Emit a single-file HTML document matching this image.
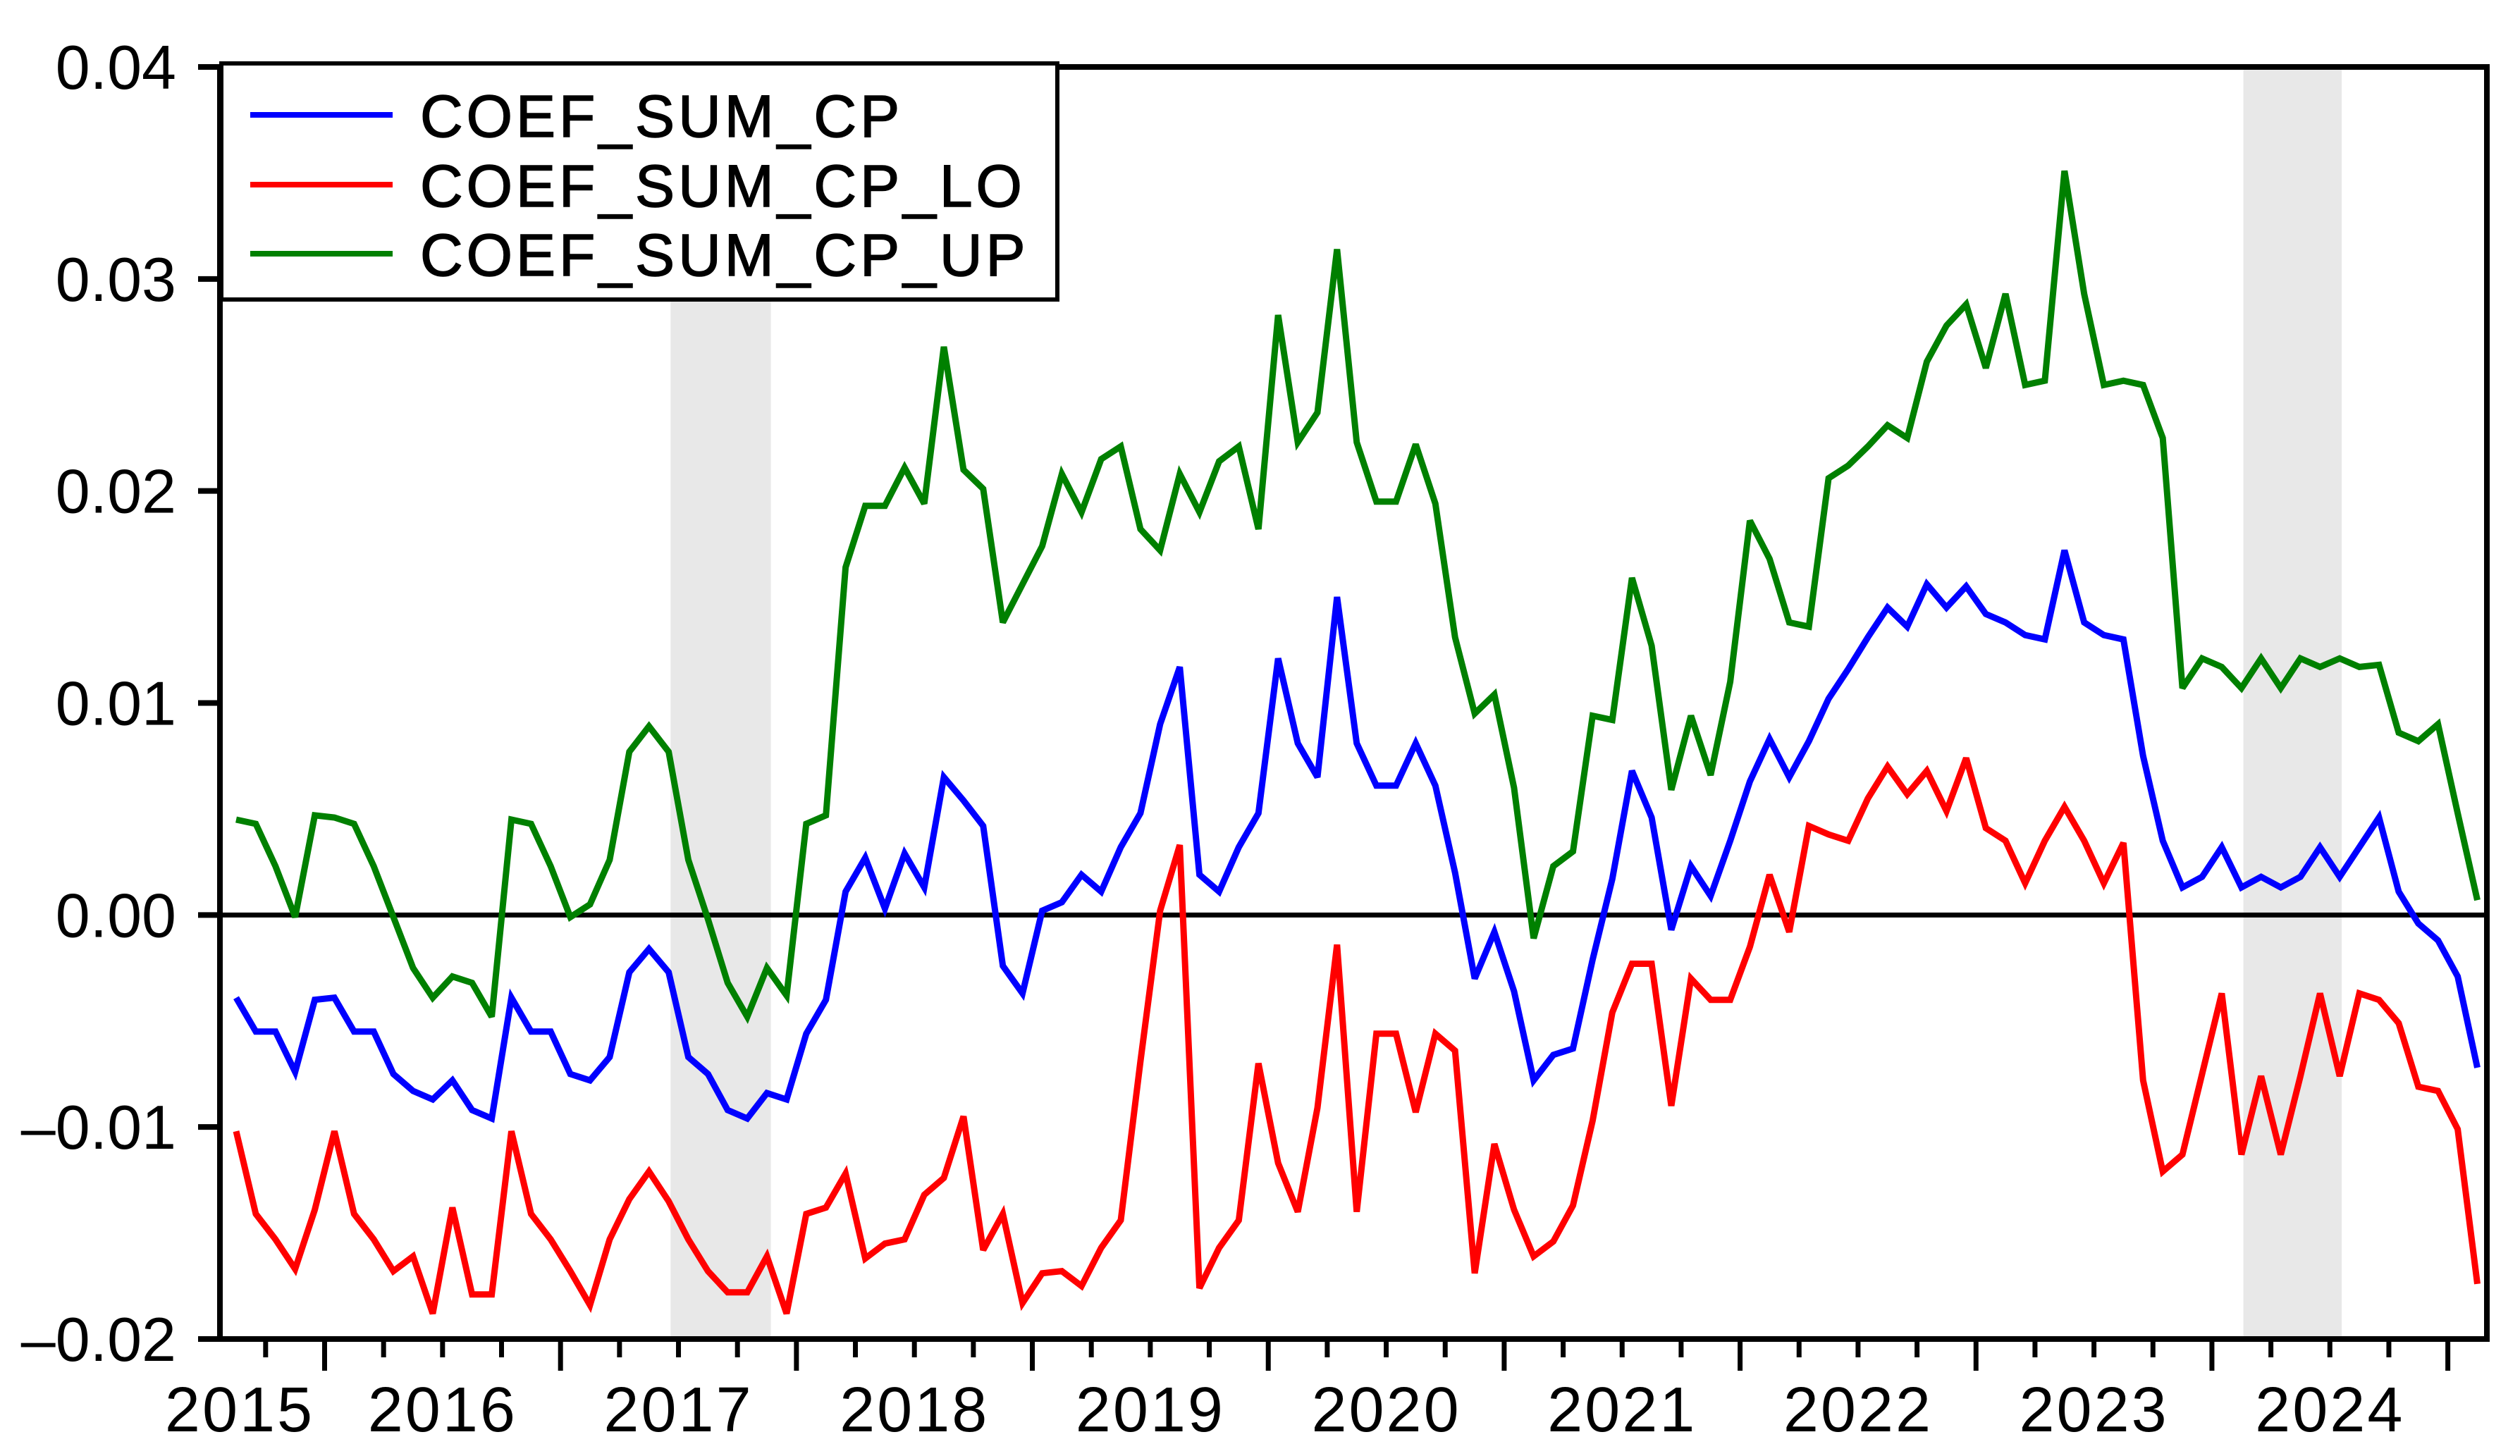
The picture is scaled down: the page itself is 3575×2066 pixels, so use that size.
<!DOCTYPE html>
<html><head><meta charset="utf-8"><style>
html,body{margin:0;padding:0;background:#fff;}
svg{display:block;font-family:"Liberation Sans",Arial,sans-serif;}
</style></head><body>
<svg id="chart" width="3575" height="2066" viewBox="0 0 3575 2066" xmlns="http://www.w3.org/2000/svg">
<g id="shades"></g><g id="grid"></g><g id="series"></g><g id="axes"></g><g id="legend"></g>
</svg>
<script>
const yTicks = [0.04, 0.03, 0.02, 0.01, 0.00, -0.01, -0.02];
const yTickLabels = ["0.04","0.03","0.02","0.01","0.00","\u20130.01","\u20130.02"];
const years = [2015,2016,2017,2018,2019,2020,2021,2022,2023,2024];
const shadeStarts = [22.1, 102.1];
const shadeEnds = [27.2, 107.1];
const coefSumCp = [-3.9,-5.5,-5.5,-7.4,-4.0,-3.9,-5.5,-5.5,-7.5,-8.3,-8.7,-7.8,-9.2,-9.6,-3.9,-5.5,-5.5,-7.5,-7.8,-6.7,-2.7,-1.6,-2.7,-6.7,-7.5,-9.2,-9.6,-8.4,-8.7,-5.6,-4.0,1.1,2.7,0.3,2.9,1.3,6.5,5.4,4.2,
-2.4,-3.7,0.2,0.6,1.9,1.1,3.2,4.8,9.0,11.7,1.9,1.1,3.2,4.8,12.1,8.1,6.5,15.0,8.1,6.1,6.1,8.1,6.1,2.0,-3.0,-0.8,-3.6,-7.8,-6.6,-6.3,-2.1,1.7,6.8,4.6,-0.7,2.3,0.9,
3.5,6.3,8.3,6.5,8.2,10.2,11.6,13.1,14.5,13.6,15.6,14.5,15.5,14.2,13.8,13.2,13.0,17.2,13.8,13.2,13.0,7.5,3.5,1.3,1.8,3.2,1.3,1.8,1.3,1.8,3.2,1.8,3.2,4.6,1.1,-0.4,-1.2,-2.9,-7.2];
const coefSumCpLo = [-10.2,-14.1,-15.3,-16.7,-13.9,-10.2,-14.1,-15.3,-16.8,-16.1,-18.8,-13.8,-17.9,-17.9,-10.2,-14.1,-15.3,-16.8,-18.4,-15.3,-13.4,-12.1,-13.5,-15.3,-16.8,-17.8,-17.8,-16.1,-18.8,-14.1,-13.8,-12.2,-16.2,-15.5,-15.3,-13.2,-12.4,-9.5,-15.8,
-14.1,-18.3,-16.9,-16.8,-17.5,-15.7,-14.4,-6.9,0.2,3.3,-17.6,-15.7,-14.4,-7.0,-11.7,-14.0,-9.1,-1.4,-14.0,-5.6,-5.6,-9.3,-5.6,-6.4,-16.9,-10.8,-13.9,-16.1,-15.4,-13.7,-9.7,-4.6,-2.3,-2.3,-9.0,-3.0,-4.0,
-4.0,-1.5,1.9,-0.8,4.2,3.8,3.5,5.5,7.0,5.7,6.8,4.9,7.4,4.1,3.5,1.5,3.5,5.1,3.5,1.5,3.4,-7.8,-12.1,-11.3,-7.5,-3.7,-11.3,-7.6,-11.3,-7.6,-3.7,-7.6,-3.7,-4.0,-5.1,-8.1,-8.3,-10.1,-17.4];
const coefSumCpUp = [4.5,4.3,2.3,-0.1,4.7,4.6,4.3,2.3,-0.1,-2.5,-3.9,-2.9,-3.2,-4.8,4.5,4.3,2.3,-0.1,0.5,2.6,7.7,8.9,7.7,2.6,-0.2,-3.2,-4.8,-2.5,-3.8,4.3,4.7,16.4,19.3,19.3,21.1,19.4,26.8,21.0,20.1,
13.8,15.6,17.4,20.8,19.0,21.5,22.1,18.2,17.2,20.8,19.0,21.4,22.1,18.2,28.3,22.3,23.7,31.4,22.3,19.5,19.5,22.2,19.4,13.1,9.5,10.4,6.0,-1.1,2.3,3.0,9.4,9.2,15.9,12.7,5.9,9.4,6.6,
11.0,18.6,16.8,13.8,13.6,20.6,21.2,22.1,23.1,22.5,26.1,27.8,28.8,25.8,29.3,25.0,25.2,35.1,29.3,25.0,25.2,25.0,22.5,10.7,12.1,11.7,10.7,12.1,10.7,12.1,11.7,12.1,11.7,11.8,8.6,8.2,9.0,4.8,0.7];
const seriesNames = ["COEF_SUM_CP","COEF_SUM_CP_LO","COEF_SUM_CP_UP"];

const NS = "http://www.w3.org/2000/svg";
const L = 312, R = 3528, T = 95, B = 1900;
const yMax = 0.04, yMin = -0.02;
function xs(i){ return 335 + 27.89 * i; }
function ys(v){ return T + (yMax - v) / (yMax - yMin) * (B - T); }
function mk(tag, attrs, parent){ const e = document.createElementNS(NS, tag); for (const k in attrs) e.setAttribute(k, attrs[k]); parent.appendChild(e); return e; }

const gS = document.getElementById('shades');
for (let k = 0; k < shadeStarts.length; k++) {
  const r = mk('rect', {x: xs(shadeStarts[k]), y: T, width: xs(shadeEnds[k]) - xs(shadeStarts[k]), height: B - T, fill: '#e8e8e8'}, gS);
  
  
}
const gG = document.getElementById('grid');
const zl = mk('line', {x1: L, x2: R, y1: ys(0), y2: ys(0), stroke: '#000', 'stroke-width': 7}, gG);



const gSer = document.getElementById('series');
const allSeries = [coefSumCp, coefSumCpLo, coefSumCpUp];
const colors = ['#0000ff', '#ff0000', '#008000'];
const serNames = ['series-coef-sum-cp', 'series-coef-sum-cp-lo', 'series-coef-sum-cp-up'];
for (let s = 0; s < allSeries.length; s++) {
  const pts = allSeries[s].map((v, i) => xs(i).toFixed(1) + ',' + ys(v / 1000).toFixed(1)).join(' ');
  const p = mk('polyline', {points: pts, fill: 'none', stroke: colors[s], 'stroke-width': 9, 'stroke-linejoin': 'miter', 'stroke-miterlimit': 3}, gSer);
  
  
}

const gA = document.getElementById('axes');
const fr = mk('rect', {x: L, y: T, width: R - L, height: B - T, fill: 'none', stroke: '#000', 'stroke-width': 8}, gA);


for (let k = 0; k < yTicks.length; k++) {
  const y = ys(yTicks[k]);
  const t = mk('line', {x1: 281, x2: L, y1: y, y2: y, stroke: '#000', 'stroke-width': 8}, gA);
  
  
  const tx = mk('text', {x: 250, y: y + 31, 'text-anchor': 'end', 'font-size': 88, fill: '#000'}, gA);
  tx.textContent = yTickLabels[k];
  
  
}
for (let q = 1.5; q < 115; q += 3) {
  const x = xs(q);
  const isYear = Math.abs(((q - 4.5) % 12 + 12) % 12) < 0.01;
  const t = mk('line', {x1: x, x2: x, y1: B, y2: isYear ? 1945 : 1926, stroke: '#000', 'stroke-width': 7}, gA);
  
  
}
for (let k = 0; k < years.length; k++) {
  let c = xs(5 + 12 * (years[k] - 2016) + 5.5);
  if (c < 340) c = 340;
  const tx = mk('text', {x: c, y: 2031, 'text-anchor': 'middle', 'font-size': 90, 'letter-spacing': 3, fill: '#000'}, gA);
  tx.textContent = String(years[k]);
  
  
}

const gL = document.getElementById('legend');
const lb = mk('rect', {x: 314, y: 90, width: 1186, height: 335, fill: '#fff', stroke: '#000', 'stroke-width': 6}, gL);


const legY = [163, 262, 360];
for (let s = 0; s < seriesNames.length; s++) {
  const ln = mk('line', {x1: 355, x2: 557, y1: legY[s], y2: legY[s], stroke: colors[s], 'stroke-width': 8}, gL);
  
  
  const tx = mk('text', {x: 596, y: legY[s] + 31, 'font-size': 84, 'letter-spacing': 5, fill: '#000', stroke: '#000', 'stroke-width': 1.5}, gL);
  tx.textContent = seriesNames[s];
  
  
}
</script>
</body></html>
